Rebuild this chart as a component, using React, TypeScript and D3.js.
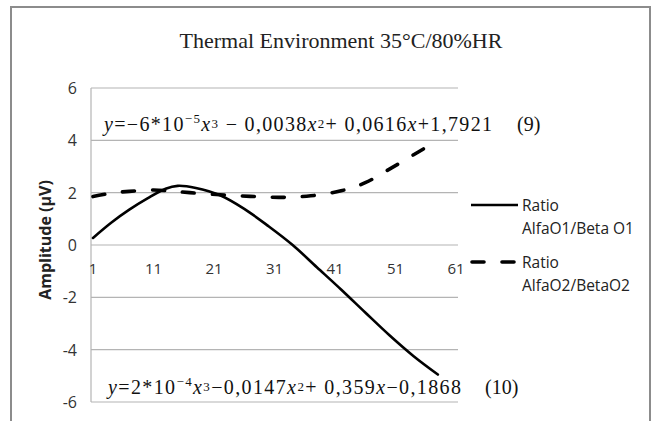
import React from "react";
import * as d3 from "d3";

const xTicks = [1, 11, 21, 31, 41, 51, 61];
const yTicks = [6, 4, 2, 0, -2, -4, -6];

const solidX = [1, 4, 7, 10, 13, 15, 18, 22, 26, 30, 34, 38, 42, 46, 50, 54, 58];
const solidY = [0.27, 0.85, 1.35, 1.78, 2.15, 2.26, 2.18, 1.9, 1.38, 0.72, 0.0, -0.85, -1.7, -2.58, -3.45, -4.25, -4.95];

const dashX = [1, 4, 7, 11, 14, 17, 22, 27, 32, 37, 42, 46, 50, 54, 58];
const dashY = [1.85, 1.98, 2.05, 2.1, 2.06, 2.0, 1.92, 1.86, 1.82, 1.88, 2.07, 2.38, 2.9, 3.45, 4.0];

const seriesNames = [
  ["Ratio", "AlfaO1/Beta O1"],
  ["Ratio", "AlfaO2/BetaO2"],
];

const title = "Thermal Environment 35°C/80%HR";
const yTitle = "Amplitude (µV)";

export default function App() {
  const W = 653;
  const H = 421;
  const left = 91;
  const right = 458;
  const top = 88;
  const bottom = 402;
  const x = d3.scaleLinear().domain([1, 61]).range([93, 456]);
  const y = d3.scaleLinear().domain([-6, 6]).range([bottom, top]);

  const line = d3
    .line<[number, number]>()
    .x((d) => x(d[0]))
    .y((d) => y(d[1]))
    .curve(d3.curveCatmullRom.alpha(0.5));

  const solidPts = solidX.map((v, i) => [v, solidY[i]] as [number, number]);
  const dashPts = dashX.map((v, i) => [v, dashY[i]] as [number, number]);

  const sans = "'Open Sans', sans-serif";
  const serif = "'Liberation Serif', 'Times New Roman', serif";

  return (
    <svg
      width={W}
      height={H}
      style={{ position: "absolute", left: 0, top: 0, background: "#fff" }}
    >
      <rect x={0} y={0} width={W} height={H} fill="#fff" />
      <rect x={11} y={7} width={639} height={430} fill="none" stroke="#8c8c8c" strokeWidth={2} />
      <text x={341} y={48} textAnchor="middle" fontFamily={serif} fontSize={22} fill="#222">
        {title}
      </text>

      {yTicks.map((t) => (
        <line key={"g" + t} x1={left} x2={right} y1={y(t)} y2={y(t)} stroke="#b4b4b4" strokeWidth={1.2} />
      ))}
      <line x1={left} x2={left} y1={top} y2={bottom} stroke="#b4b4b4" strokeWidth={1.2} />

      {yTicks.map((t) => (
        <text key={"yt" + t} x={77} y={y(t) + 6} textAnchor="end" fontFamily={sans} fontSize={16} fill="#333">
          {t}
        </text>
      ))}
      {xTicks.map((t) => (
        <text key={"xt" + t} x={x(t)} y={y(0) + 29} textAnchor="middle" fontFamily={sans} fontSize={15} fill="#333">
          {t}
        </text>
      ))}
      <text
        transform={`translate(51,${240}) rotate(-90)`}
        textAnchor="middle"
        fontFamily={sans}
        fontWeight="bold"
        fontSize={16}
        fill="#222"
      >
        {yTitle}
      </text>

      <path d={line(solidPts) || ""} fill="none" stroke="#000" strokeWidth={2.6} strokeLinecap="round" />
      <path
        d={line(dashPts) || ""}
        fill="none"
        stroke="#000"
        strokeWidth={3.6}
        strokeDasharray="12 18"
        strokeLinecap="round"
      />

      {/* equations */}
      <text x={104} y={131} fontFamily={serif} fontSize={20} fill="#111" textLength={388} lengthAdjust="spacing">
        <tspan fontStyle="italic">y</tspan>
        <tspan>=−6*10</tspan>
        <tspan fontSize={13} dy={-8}>−5</tspan>
        <tspan fontStyle="italic" dy={8}>x</tspan>
        <tspan fontSize={13} dy={-3}>3</tspan>
        <tspan dy={3}> − 0,0038</tspan>
        <tspan fontStyle="italic">x</tspan>
        <tspan fontSize={13} dy={-3}>2</tspan>
        <tspan dy={3}>+ 0,0616</tspan>
        <tspan fontStyle="italic">x</tspan>
        <tspan>+1,7921</tspan>
      </text>
      <text x={517} y={131} fontFamily={serif} fontSize={20} fill="#111">(9)</text>

      <text x={108} y={394} fontFamily={serif} fontSize={20} fill="#111" textLength={353} lengthAdjust="spacing">
        <tspan fontStyle="italic">y</tspan>
        <tspan>=2*10</tspan>
        <tspan fontSize={13} dy={-8}>−4</tspan>
        <tspan fontStyle="italic" dy={8}>x</tspan>
        <tspan fontSize={13} dy={-3}>3</tspan>
        <tspan dy={3}>−0,0147</tspan>
        <tspan fontStyle="italic">x</tspan>
        <tspan fontSize={13} dy={-3}>2</tspan>
        <tspan dy={3}>+ 0,359</tspan>
        <tspan fontStyle="italic">x</tspan>
        <tspan>−0,1868</tspan>
      </text>
      <text x={485} y={394} fontFamily={serif} fontSize={20} fill="#111">(10)</text>

      {/* legend */}
      <line x1={471} x2={518} y1={205} y2={205} stroke="#000" strokeWidth={2.6} />
      <line
        x1={472}
        x2={518}
        y1={262}
        y2={262}
        stroke="#000"
        strokeWidth={3.6}
        strokeDasharray="12 18"
        strokeLinecap="round"
      />
      {seriesNames.map((n, i) => (
        <text key={"lg" + i} x={522} y={211 + i * 57} fontFamily={sans} fontSize={15.5} fill="#222">
          <tspan x={522}>{n[0]}</tspan>
          <tspan x={522} dy={23}>{n[1]}</tspan>
        </text>
      ))}
    </svg>
  );
}
